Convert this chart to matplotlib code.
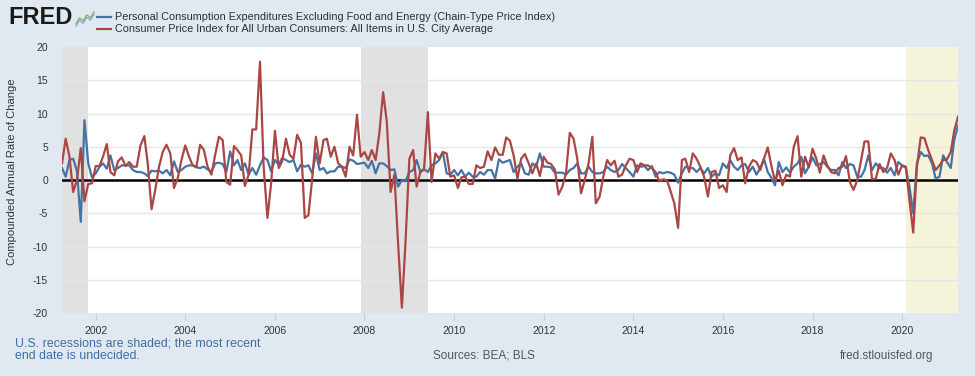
import matplotlib
matplotlib.use("Agg")
import matplotlib.pyplot as plt
import matplotlib.dates as mdates
import pandas as pd

plt.rcParams['font.family'] = ['Liberation Sans', 'DejaVu Sans']
plt.rcParams['axes.unicode_minus'] = False

# monthly, 2001-04 .. 2021-04, compounded annual rate of change
start = "2001-04-01"

pce_core = [
    1.8, 0.5, 3.0, 3.2, 1.3, -6.3, 9.0, 2.5, 0.4, 1.0,
    2.0, 2.5, 1.7, 3.7, 1.5, 1.8, 2.2, 2.2, 2.2, 1.5,
    1.2, 1.2, 1.0, 0.6, 1.4, 1.3, 1.4, 1.0, 1.5, 0.7,
    2.8, 1.2, 1.5, 2.0, 2.2, 2.2, 1.9, 1.8, 2.0, 1.6,
    1.2, 2.5, 2.6, 2.4, 1.2, 4.3, 2.2, 3.0, 1.5, 2.5,
    0.8, 1.8, 0.8, 2.2, 3.4, 3.0, 1.3, 3.0, 2.3, 3.3,
    3.0, 2.7, 3.0, 1.3, 2.3, 2.0, 2.2, 1.0, 4.0, 1.5,
    1.8, 1.0, 1.3, 1.3, 2.0, 2.0, 1.8, 3.1, 2.9, 2.4,
    2.5, 2.6, 1.8, 2.9, 1.0, 2.5, 2.5, 2.1, 1.5, 1.6,
    -1.0, 0.0, -0.2, 1.2, 1.5, 3.0, 1.2, 1.6, 1.2, 2.2,
    2.5, 3.0, 4.2, 1.0, 0.8, 1.5, 0.7, 1.5, 0.5, 1.1,
    0.5, 0.5, 1.2, 0.8, 1.5, 1.5, 0.2, 3.1, 2.6, 2.8,
    3.0, 1.2, 2.0, 2.5, 1.0, 0.8, 2.5, 2.0, 4.0, 2.0,
    2.0, 1.9, 1.1, 1.1, 1.1, 0.8, 1.5, 1.8, 2.5, 1.0,
    1.0, 2.0, 1.2, 1.0, 1.0, 1.2, 2.0, 1.5, 1.2, 1.5,
    2.4, 1.8, 1.2, 0.5, 2.2, 2.0, 2.1, 1.5, 2.1, 0.5,
    1.2, 1.0, 1.2, 1.1, 0.8, -0.4, 1.0, 2.0, 1.8, 1.8,
    1.2, 1.8, 1.0, 1.8, 0.5, 1.0, 0.7, 2.5, 1.8, 3.0,
    2.0, 1.5, 2.2, 2.4, 1.2, 2.0, 0.8, 1.8, 3.2, 1.2,
    0.3, -0.8, 2.7, 1.2, 1.9, 1.1, 2.0, 2.5, 3.5, 1.0,
    2.0, 3.4, 2.2, 2.4, 2.7, 2.0, 1.5, 1.5, 0.7, 2.7,
    1.8, 2.4, 2.2, 0.5, 0.5, 1.5, 3.7, 1.5, 2.5, 1.8,
    1.8, 1.1, 1.8, 0.7, 2.7, 2.2, 1.8, -1.0, -5.0, 2.5,
    4.2, 3.6, 3.7, 2.5, 0.2, 0.5, 3.7, 2.7, 1.8, 6.0, 8.2,
]

cpi_all = [
    2.5, 6.2, 3.5, -1.8, 0.0, 4.8, -3.2, -0.6, -0.5, 2.1,
    2.1, 3.5, 5.4, 1.2, 0.7, 2.8, 3.4, 2.1, 2.7, 2.0,
    2.0, 5.2, 6.6, 2.5, -4.4, -1.5, 2.0, 4.2, 5.3, 4.0,
    -1.2, 0.3, 3.0, 5.2, 3.5, 2.2, 2.0, 5.3, 4.5, 2.0,
    0.8, 3.8, 6.5, 6.0, -0.3, -0.7, 5.1, 4.5, 3.7, -0.9,
    0.8, 7.6, 7.6, 17.8, 2.0, -5.7, -0.5, 7.4, 1.8, 2.8,
    6.2, 3.8, 3.2, 6.8, 5.6, -5.7, -5.3, 0.2, 6.5, 2.5,
    6.0, 6.2, 3.5, 5.0, 2.5, 2.0, 0.5, 5.0, 3.7, 9.8,
    3.5, 4.2, 3.0, 4.5, 3.0, 7.0, 13.2, 8.8, -1.8, 0.8,
    -9.5, -19.2, -9.2, 3.2, 4.5, -1.0, 1.2, 1.7, 10.2, -0.3,
    4.0, 3.2, 4.2, 4.0, 0.5, 0.7, -1.2, 0.4, 0.5, -0.6,
    -0.6, 2.2, 1.8, 2.0, 4.3, 3.0, 4.9, 3.8, 3.8, 6.4,
    5.9, 3.7, 0.2, 3.2, 3.9, 2.5, 1.0, 2.5, 0.6, 3.5,
    2.6, 2.4, 1.6, -2.2, -1.0, 1.0, 7.1, 6.2, 3.2, -2.0,
    0.0, 2.5, 6.5, -3.5, -2.5, 0.5, 3.0, 2.2, 2.9, 0.5,
    0.8, 2.2, 3.2, 3.0, 1.2, 2.5, 2.2, 2.2, 1.8, 1.2,
    -0.2, 0.1, 0.0, -1.7, -3.5, -7.2, 3.0, 3.2, 1.2, 4.0,
    3.2, 2.0, 0.5, -2.5, 1.2, 1.4, -1.2, -0.8, -1.8, 3.7,
    4.8, 3.0, 3.4, -0.5, 2.0, 3.0, 2.7, 1.5, 3.2, 4.9,
    2.0, -0.2, 1.4, -0.8, 0.8, 0.5, 5.0, 6.6, 0.5, 3.5,
    1.9, 4.7, 3.2, 1.1, 3.7, 2.2, 1.2, 1.0, 1.8, 2.0,
    3.6, -0.3, -1.5, 0.0, 3.0, 5.8, 5.8, 0.1, 0.2, 2.4,
    1.2, 1.8, 4.0, 3.0, 0.8, 2.2, 2.0, -3.0, -7.9, 2.0,
    6.4, 6.3, 4.5, 3.0, 1.5, 2.2, 3.0, 3.1, 4.2, 7.4, 9.5,
]

recessions = [("2001-03-01", "2001-11-01"), ("2007-12-01", "2009-06-01")]
open_recession = ("2020-02-01", "2021-04-01")

series_names = [
    "Personal Consumption Expenditures Excluding Food and Energy (Chain-Type Price Index)",
    "Consumer Price Index for All Urban Consumers: All Items in U.S. City Average",
]

dates = pd.date_range(start, periods=len(cpi_all), freq="MS")

BG = "#E1E9F0"
BLUE = "#4572A7"
RED = "#AA4643"

fig = plt.figure(figsize=(9.75, 3.76), dpi=100, facecolor=BG)
ax = fig.add_axes([62 / 975, 1 - 313 / 376, 896 / 975, 266 / 376])
ax.set_facecolor("white")

for a, b in recessions:
    ax.axvspan(pd.Timestamp(a), pd.Timestamp(b), color="#E1E1E1", lw=0, zorder=0)
ax.axvspan(pd.Timestamp(open_recession[0]), pd.Timestamp(open_recession[1]),
           color="#F5F3DA", lw=0, zorder=0)

for y in range(-15, 20, 5):
    ax.axhline(y, color="#E6E6E6", lw=1, zorder=1)
ax.axhline(0, color="black", lw=1.8, zorder=2)

ax.plot(dates, pce_core, color=BLUE, lw=1.6, zorder=3)
ax.plot(dates, cpi_all, color=RED, lw=1.6, zorder=4)

ax.set_xlim(dates[0], dates[-1])
ax.set_ylim(-20, 20)
ax.set_yticks(range(-20, 25, 5))
ax.xaxis.set_major_locator(mdates.YearLocator(2))
ax.xaxis.set_major_formatter(mdates.DateFormatter("%Y"))
ax.tick_params(axis="x", colors="#C8D2DC", length=5, width=1, labelcolor="#333333",
               labelsize=7.5, pad=4)
ax.tick_params(axis="y", length=0, labelcolor="#333333", labelsize=7.5, pad=10)
for s in ax.spines.values():
    s.set_visible(False)
ax.set_ylabel("Compounded Annual Rate of Change", fontsize=8, color="#333333", labelpad=8)
ax.yaxis.set_label_coords(-0.05, 0.53)

# header
fig.text(8 / 975, 1 - 18 / 376, "FRED", fontsize=17, fontweight="bold", color="#1A1A1A",
         va="center", ha="left")
ico = fig.add_axes([75 / 975, 1 - 27 / 376, 20 / 975, 16 / 376])
logo_zigzag = [0, 2, 1, 3, 2, 4]
ico.plot(range(len(logo_zigzag)), logo_zigzag, color="#7DB35A", lw=0.9)
ico.plot(range(len(logo_zigzag)), [v - 0.8 for v in logo_zigzag], color="#7FA6CE", lw=0.9)
ico.axis("off")

for i, (name, c) in enumerate(zip(series_names, [BLUE, RED])):
    yy = 1 - (17 + 12 * i) / 376
    fig.add_artist(plt.Line2D([97 / 975, 111 / 975], [yy, yy], color=c, lw=1.6,
                              transform=fig.transFigure))
    fig.text(115 / 975, yy, name, fontsize=7.8, color="#2E2E2E", va="center", ha="left")

# footer
fig.text(15 / 975, 1 - 343 / 376, "U.S. recessions are shaded; the most recent",
         fontsize=8.9, color="#3E6DA8", va="center", ha="left")
fig.text(15 / 975, 1 - 356 / 376, "end date is undecided.",
         fontsize=8.9, color="#3E6DA8", va="center", ha="left")
fig.text(484 / 975, 1 - 356 / 376, "Sources: BEA; BLS", fontsize=8.5, color="#555555",
         va="center", ha="center")
fig.text(933 / 975, 1 - 356 / 376, "fred.stlouisfed.org", fontsize=8.5, color="#555555",
         va="center", ha="right")

fig.savefig("out.png", dpi=100, facecolor=BG)
